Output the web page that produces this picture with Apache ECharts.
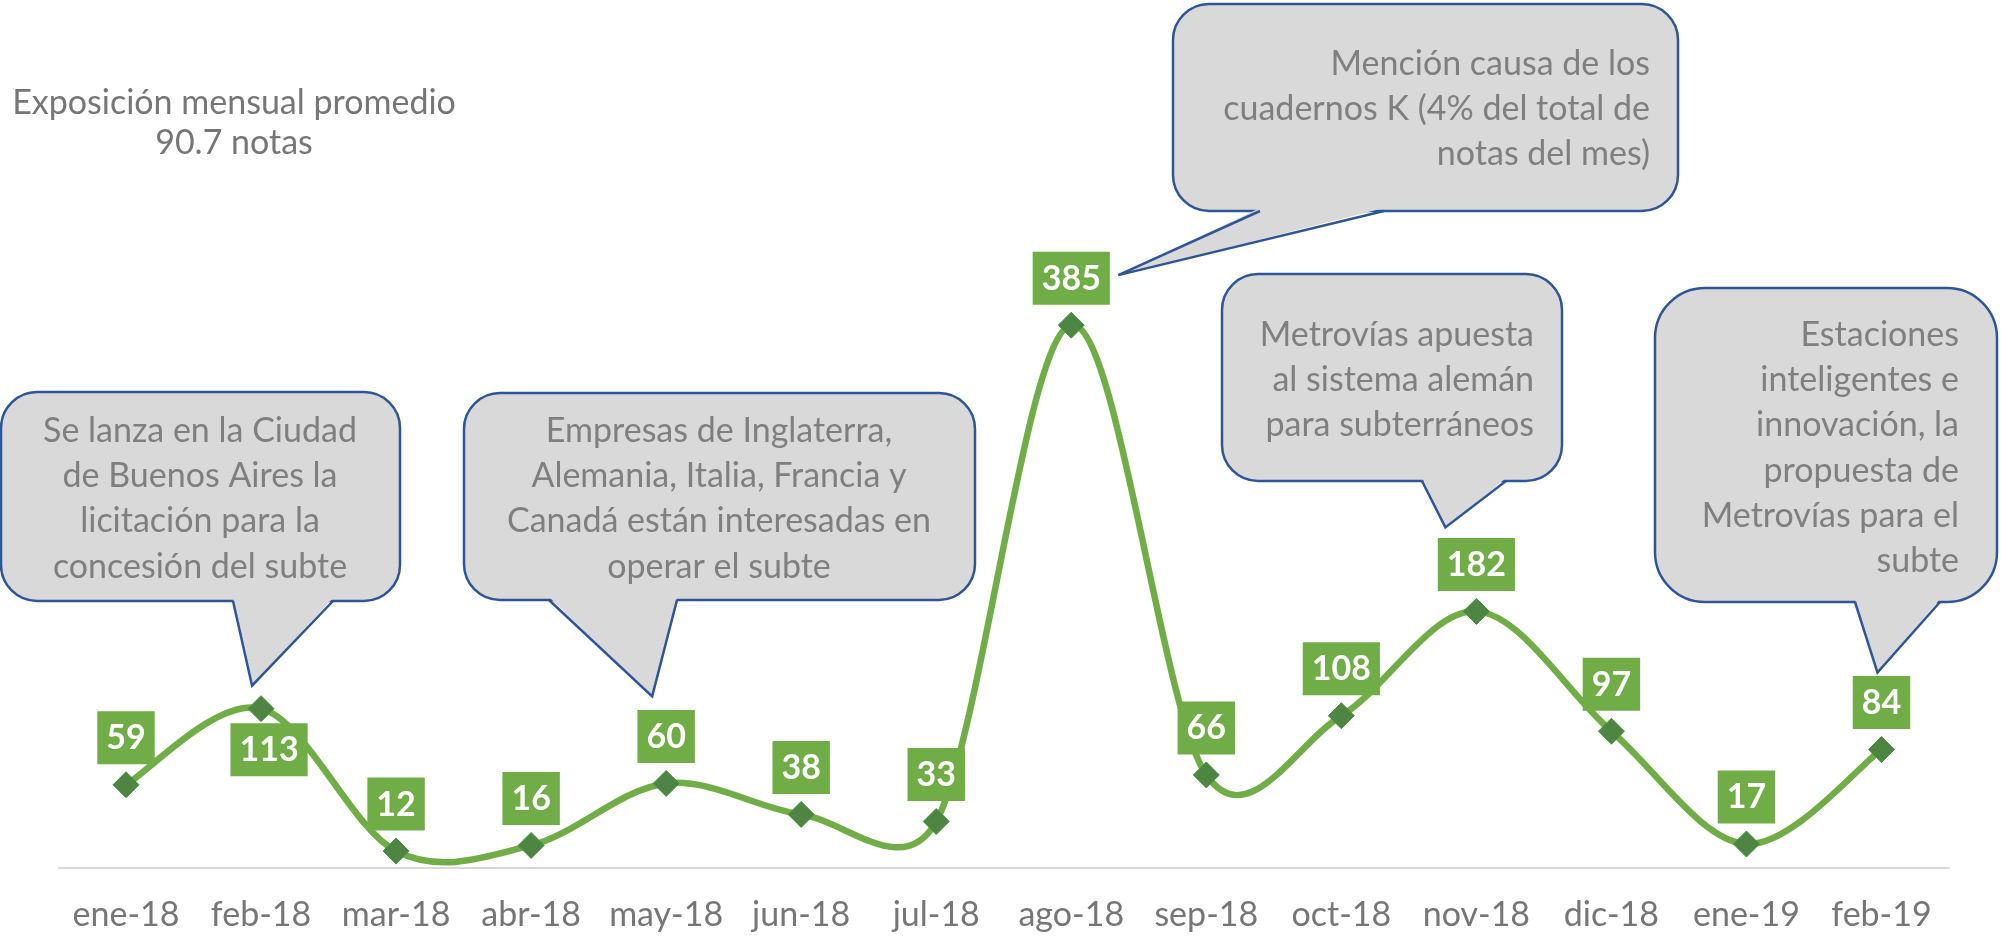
<!DOCTYPE html>
<html>
<head>
<meta charset="utf-8">
<script src="https://cdn.jsdelivr.net/npm/echarts@6/dist/echarts.min.js"></script>
<style>
    html, body { margin: 0; padding: 0; background: #fff; }
    #chart { width: 2001px; height: 937px; }
</style>
</head>
<body>
<div id="chart"></div>
<script>
// datos
var meses = ['ene-18', 'feb-18', 'mar-18', 'abr-18', 'may-18', 'jun-18', 'jul-18',
    'ago-18', 'sep-18', 'oct-18', 'nov-18', 'dic-18', 'ene-19', 'feb-19'];
var notas = [59, 113, 12, 16, 60, 38, 33, 385, 66, 108, 182, 97, 17, 84];
var etiquetaAbajo = [1]; // índices con la etiqueta debajo del punto
var promedio = ['Exposición mensual promedio', '90.7 notas'];

// textos de los globos
var globo1 = ['Se lanza en la Ciudad', 'de Buenos Aires la', 'licitación para la', 'concesión del subte'];
var globo2 = ['Empresas de Inglaterra,', 'Alemania, Italia, Francia y', 'Canadá están interesadas en', 'operar el subte'];
var globo3 = ['Mención causa de los', 'cuadernos K (4% del total de', 'notas del mes)'];
var globo4 = ['Metrovías apuesta', 'al sistema alemán', 'para subterráneos'];
var globo5 = ['Estaciones', 'inteligentes e', 'innovación, la', 'propuesta de', 'Metrovías para el', 'subte'];

var FONT = 'Lato, "Open Sans", sans-serif';
var VERDE = '#70AD47';
var GRIS_TXT = '#7F7F7F';

// posicion de cada globo (caja, base de la cola, punto al que apunta)
var globos = [
    { lines: globo1, align: 'center', box: [1, 392, 399, 209], r: 36, base: [233, 333], anchor: 1, tip: [-9, -23], tx: 200, ty: 431 },
    { lines: globo2, align: 'center', box: [464, 393, 511, 207], r: 36, base: [549, 677], anchor: 4, tip: [-14, -87], tx: 719, ty: 431 },
    { lines: globo3, align: 'right', box: [1173, 4, 505, 207], r: 36, base: [1260, 1384], anchor: 7, tip: [47, -50], tx: 1650, ty: 64 },
    { lines: globo4, align: 'right', box: [1222, 274, 340, 207], r: 36, base: [1422, 1506], anchor: 10, tip: [-31, -84], tx: 1534, ty: 335 },
    { lines: globo5, align: 'right', box: [1655, 288, 342, 314], r: 50, base: [1855, 1940], anchor: 13, tip: [-4, -77], tx: 1959, ty: 335 }
];

var chart = echarts.init(document.getElementById('chart'));

function dist(a, b) {
    return Math.sqrt((a[0] - b[0]) * (a[0] - b[0]) + (a[1] - b[1]) * (a[1] - b[1]));
}

// tramo suavizado estilo Excel entre el punto i y el i+1
function tramoSuave(params, api) {
    var i = params.dataIndex;
    var n = notas.length;
    if (i >= n - 1) return null;
    var P = function (k) {
        k = Math.max(0, Math.min(n - 1, k));
        return api.coord([k, notas[k]]);
    };
    var p0 = P(i - 1), p1 = P(i), p2 = P(i + 1), p3 = P(i + 2);
    var d12 = dist(p1, p2);
    var d02 = dist(p0, p2), d13 = dist(p1, p3);
    var f = 1 / 6, g = 1 / 6;
    if (d02 / 6 > d12 / 2) f = d12 / (2 * d02);
    if (d13 / 6 > d12 / 2) g = d12 / (2 * d13);
    return {
        type: 'bezierCurve',
        shape: {
            x1: p1[0], y1: p1[1],
            x2: p2[0], y2: p2[1],
            cpx1: p1[0] + (p2[0] - p0[0]) * f,
            cpy1: p1[1] + (p2[1] - p0[1]) * f,
            cpx2: p2[0] - (p3[0] - p1[0]) * g,
            cpy2: p2[1] - (p3[1] - p1[1]) * g
        },
        style: { stroke: VERDE, lineWidth: 6.5, fill: null, lineCap: 'round' }
    };
}

var option = {
    animation: false,
    grid: {
        left: 58.5,
        right: 52,
        top: 304,
        bottom: 69,
        containLabel: false,
        outerBoundsMode: 'none'
    },
    xAxis: {
        type: 'category',
        data: meses,
        boundaryGap: true,
        axisLine: { lineStyle: { color: '#D9D9D9', width: 2 } },
        axisTick: { show: false },
        axisLabel: {
            color: '#767676',
            fontFamily: FONT,
            fontSize: 34,
            margin: 30,
            interval: 0
        }
    },
    yAxis: {
        type: 'value',
        min: 0,
        max: 400,
        show: false,
        splitLine: { show: false }
    },
    series: [{
        type: 'custom',
        data: notas.map(function (v, i) { return [i, v]; }),
        encode: { x: 0, y: 1 },
        renderItem: tramoSuave,
        clip: false,
        silent: true,
        z: 2
    }, {
        type: 'line',
        data: notas.map(function (v, i) {
            if (etiquetaAbajo.indexOf(i) >= 0) {
                return { value: v, label: { position: 'bottom', distance: 1, offset: [8, 0] } };
            }
            return v;
        }),
        symbol: 'diamond',
        symbolSize: 26,
        showAllSymbol: true,
        lineStyle: { width: 0, opacity: 0 },
        itemStyle: { color: '#4E8542', borderColor: '#45943A', borderWidth: 1 },
        label: {
            show: true,
            position: 'top',
            distance: 7,
            color: '#fff',
            fontFamily: FONT,
            fontWeight: 'bold',
            fontSize: 34,
            lineHeight: 42,
            padding: [6, 9, 5, 9],
            backgroundColor: VERDE
        },
        z: 3
    }]
};

chart.setOption(option);

function textoEl(txt, x, y, align, color) {
    return {
        type: 'text',
        z: 20,
        style: {
            text: txt,
            x: x,
            y: y,
            align: align,
            textAlign: align,
            verticalAlign: 'middle',
            textVerticalAlign: 'middle',
            fill: color,
            fontFamily: FONT,
            fontSize: 34
        }
    };
}

var graficos = [];
promedio.forEach(function (t, i) {
    graficos.push(textoEl(t, 234, 103 + i * 40, 'center', '#767676'));
});

globos.forEach(function (g) {
    var p = chart.convertToPixel({ seriesIndex: 1 }, [g.anchor, notas[g.anchor]]);
    var tipX = p[0] + g.tip[0], tipY = p[1] + g.tip[1];
    var bx = g.box[0], by = g.box[1], bw = g.box[2], bh = g.box[3];
    var fondo = by + bh;
    graficos.push({
        type: 'rect', z: 10,
        shape: { x: bx, y: by, width: bw, height: bh, r: g.r },
        style: { fill: '#D9D9D9', stroke: '#2F5597', lineWidth: 2.5 }
    });
    graficos.push({
        type: 'polygon', z: 11,
        shape: { points: [[g.base[0], fondo - 3], [tipX, tipY], [g.base[1], fondo - 3]] },
        style: { fill: '#D9D9D9' }
    });
    graficos.push({
        type: 'polyline', z: 12,
        shape: { points: [[g.base[0], fondo], [tipX, tipY], [g.base[1], fondo]] },
        style: { stroke: '#2F5597', lineWidth: 2.5, fill: null }
    });
    g.lines.forEach(function (t, i) {
        graficos.push(textoEl(t, g.tx, g.ty + i * 45.2, g.align, GRIS_TXT));
    });
});

chart.setOption({ graphic: graficos });
</script>
</body>
</html>
